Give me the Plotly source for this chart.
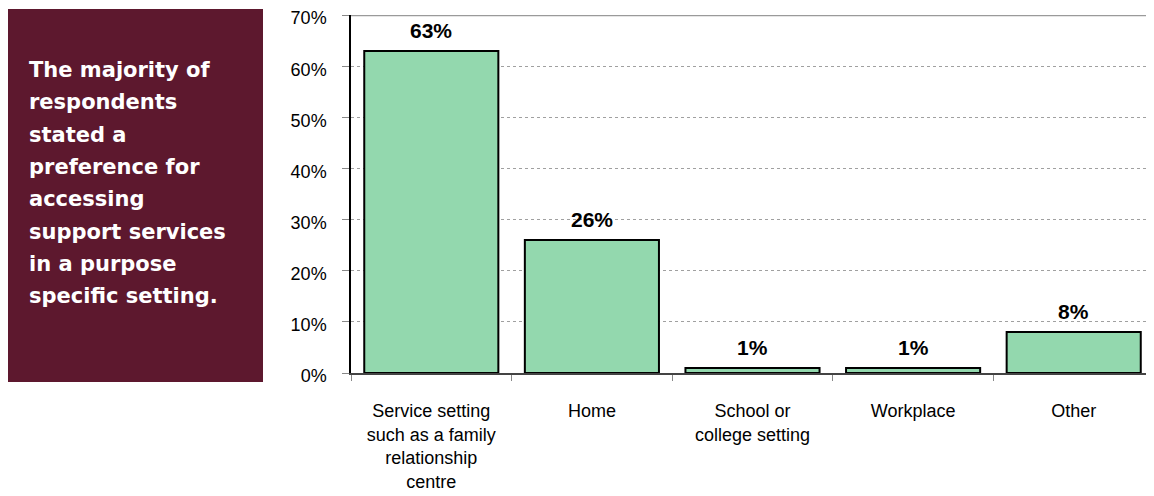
import plotly.graph_objects as go

categories = ["Service setting<br>such as a family<br>relationship<br>centre", "Home",
              "School or<br>college setting", "Workplace", "Other"]
values = [63, 26, 1, 1, 8]
labels = ["63%", "26%", "1%", "1%", "8%"]
y_ticks = [0, 10, 20, 30, 40, 50, 60, 70]
y_tick_labels = ["0%", "10%", "20%", "30%", "40%", "50%", "60%", "70%"]
side_lines = ["The majority of", "respondents", "stated a", "preference for", "accessing",
              "support services", "in a purpose", "specific setting."]

# page has an 8px body margin, so figure coords = screen coords - 8
W, H = 1146, 488
L, R, T = 343, 0, 7
B = H - 365
pw = W - L - R
ph = H - T - B

fig = go.Figure(go.Bar(
    x=categories, y=values,
    marker=dict(color="#93D8AE", line=dict(color="black", width=2)),
))

for c, v, t in zip(categories, values, labels):
    fig.add_annotation(x=c, y=v, text=t, showarrow=False, yanchor="bottom", yshift=7,
                       font=dict(family="Liberation Sans, Arial", size=21, color="black",
                                 weight="bold"))

def px_x(p):
    return (p - L) / pw

def px_y(p):
    return (H - B - p) / ph

fig.add_shape(type="rect", xref="paper", yref="paper",
              x0=px_x(0), x1=px_x(255), y0=px_y(374), y1=px_y(1),
              fillcolor="#5D182E", line=dict(width=0), layer="below")
for i, line in enumerate(side_lines):
    fig.add_annotation(xref="paper", yref="paper", x=px_x(19), y=px_y(62 + i * 32.3),
                       xanchor="left", yanchor="middle", align="left", showarrow=False,
                       text=line,
                       font=dict(family="DejaVu Sans", size=21, color="white", weight="bold"))
fig.add_shape(type="line", xref="paper", yref="y", x0=0, x1=1, y0=70, y1=70,
              line=dict(color="#9A9A9A", width=2.5))

fig.update_layout(
    width=W, height=H, margin=dict(l=L, r=R, t=T, b=B, autoexpand=False),
    plot_bgcolor="white", paper_bgcolor="white", showlegend=False,
    bargap=0.165,
    font=dict(family="Liberation Sans, Arial", size=18, color="black"),
)
fig.update_yaxes(range=[0, 70.02], tickvals=y_ticks, ticktext=y_tick_labels,
                 showgrid=True, gridcolor="#A0A0A0", griddash="dot", gridwidth=1,
                 showline=True, linecolor="black", linewidth=1.5,
                 ticks="outside", ticklen=7, tickcolor="#888888",
                 tickfont=dict(size=18), ticklabelstandoff=12, ticklabelshift=3,
                 zeroline=False, ticklabeloverflow="allow", automargin=False)
fig.update_xaxes(showline=True, linecolor="#444444", linewidth=1.5,
                 tickson="boundaries", ticks="outside", ticklen=6, tickcolor="#888888",
                 tickfont=dict(size=18), ticklabelstandoff=21, automargin=False)

fig.write_html("out.html")
